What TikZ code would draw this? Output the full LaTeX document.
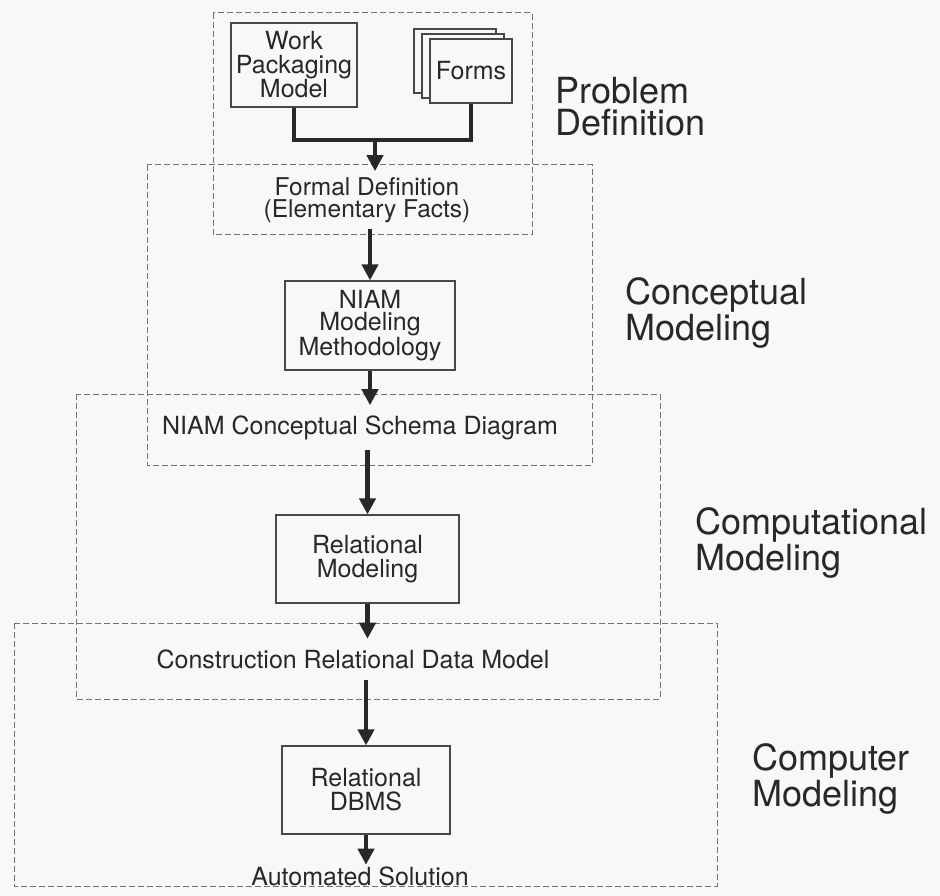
\documentclass[tikz,border=0pt]{standalone}
\usepackage{fontspec}
\setmainfont{TeX Gyre Heros}
\usetikzlibrary{arrows.meta,calc}
\definecolor{paper}{RGB}{248,248,246}
\definecolor{ink}{RGB}{40,40,40}
\definecolor{frame}{RGB}{115,115,115}
\begin{document}
\begin{tikzpicture}[x=1pt,y=-1pt,
  box/.style={draw=ink!85, line width=1.2pt, fill=paper, align=center,
    font=\fontsize{25}{24}\selectfont, text=ink, inner sep=0pt},
  lbl/.style={align=center, font=\fontsize{25}{22}\selectfont, text=ink, inner xsep=0pt},
  phase/.style={dash pattern=on 6pt off 3pt, draw=frame, line width=1pt},
  side/.style={align=left, anchor=base west, font=\fontsize{36}{32}\selectfont,
    text=ink, inner sep=0pt},
  flow/.style={draw=ink, line width=4.5pt},
  arr/.style={flow, -{Triangle[length=16pt,width=16pt]}}
]
% page
\fill[paper] (0,0) rectangle (940,896);
\useasboundingbox (0,0) rectangle (940,896);

% phase frames
\draw[phase] (213,13) rectangle (532,235);
\draw[phase] (147,165) rectangle (592,465);
\draw[phase] (76,394) rectangle (660,699);
\draw[phase] (14,623) rectangle (717,886);

% phase names (anchored on the baseline of their second line)
\node[side] (pd) at (555,136) {Problem\\Definition};
\node[side] (cm) at (625,340) {Conceptual\\Modeling};
\node[side] (cpm) at (695,570) {Computational\\Modeling};
\node[side] (cum) at (752,806) {Computer\\Modeling};

% inputs
\node[box, minimum width=126pt, minimum height=84pt] (wpm) at (294,65) {Work\\Packaging\\Model};
\node[box, minimum width=82pt, minimum height=64pt] (formsc) at (455,61) {};
\node[box, minimum width=82pt, minimum height=64pt] (formsb) at (463,66) {};
\node[box, minimum width=82pt, minimum height=64pt] (forms) at (471,71) {Forms};
\coordinate (join) at (375,140);

% steps and products
\node[lbl, inner ysep=6pt, font=\fontsize{24.5}{22}\selectfont] (fd) at (367,200)
  {Formal Definition\\(Elementary Facts)};
\node[box, minimum width=170pt, minimum height=89pt, font=\fontsize{25}{22}\selectfont]
  (niam) at (370,325.5) {NIAM\\Modeling\\Methodology};
\node[lbl, inner ysep=10pt] (ncsd) at (360,427.5) {NIAM Conceptual Schema Diagram};
\node[box, minimum width=183pt, minimum height=88pt] (relm) at (367.5,559) {Relational\\Modeling};
\node[lbl, inner ysep=11pt] (crdm) at (353,659.5) {Construction Relational Data Model};
\node[box, minimum width=168pt, minimum height=88pt] (dbms) at (366,790) {Relational\\DBMS};
\node[lbl, inner ysep=2pt] (auto) at (360,876.5) {Automated Solution};

% flow
\draw[flow] (wpm.south) |- (join) -| (forms.south);
\draw[arr] (join) -- (join |- fd.north);
\draw[arr] (fd.south -| niam.north) -- (niam.north);
\draw[arr] (niam.south) -- (niam.south |- ncsd.north);
\draw[arr] (ncsd.south -| relm.north) -- (relm.north);
\draw[arr] (relm.south) -- (relm.south |- crdm.north);
\draw[arr] (crdm.south -| dbms.north) -- (dbms.north);
\draw[arr] (dbms.south) -- (dbms.south |- auto.north);
\end{tikzpicture}
\end{document}
